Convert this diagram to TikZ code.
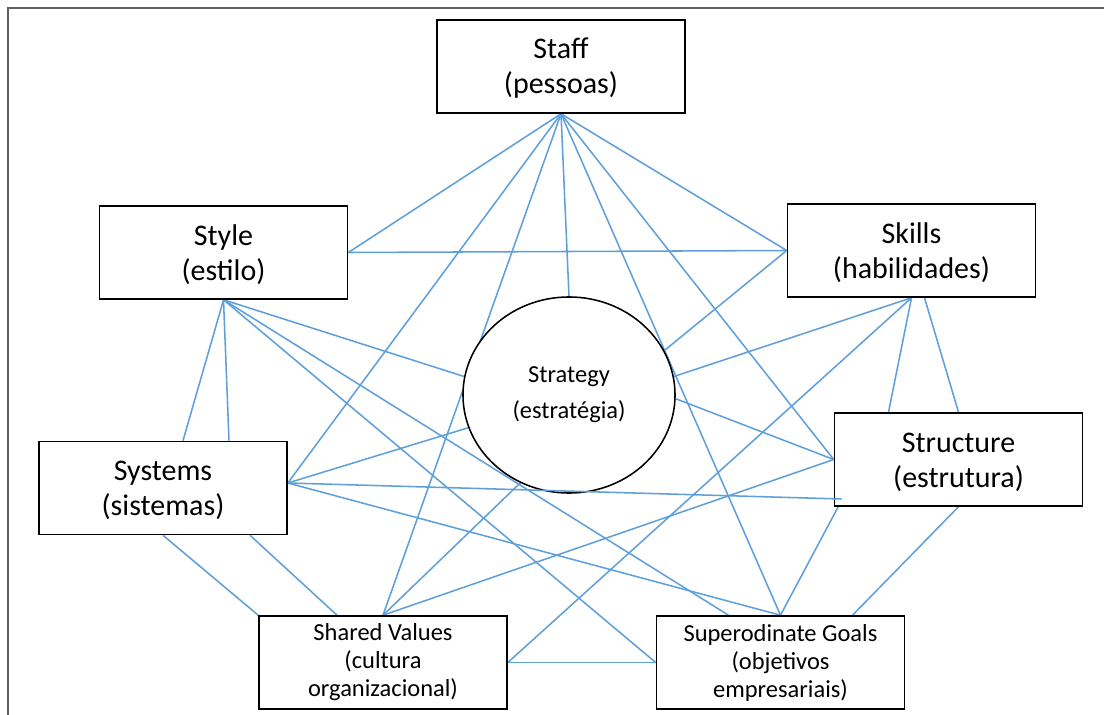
\documentclass[tikz,border=0pt]{standalone}
\usepackage{fontspec}
\setmainfont{Carlito}
\usetikzlibrary{shapes.geometric,calc}
\definecolor{linkblue}{RGB}{96,160,218}
\pgfdeclarelayer{background}
\pgfsetlayers{background,main}

\begin{document}
\begin{tikzpicture}[x=0.025cm,y=-0.025cm,
  box/.style={draw=black, line width=1.1pt, fill=white,
    minimum width=6.2cm, minimum height=2.325cm, inner sep=0pt,
    align=center, font=\fontsize{21.3}{25}\selectfont},
  smallbox/.style={box, font=\fontsize{17.4}{19.9}\selectfont},
  link/.style={draw=linkblue, line width=1.1pt},
  frame/.style={draw=gray!75!black, line width=1.3pt}]
\useasboundingbox (0,0) rectangle (1104,715);

% page frame
\draw[frame] (8,715) -- (8,8) -- (1104,8);

% the seven elements
\node[box] (staff) at (561,66.5) {\strut Staff\\(pessoas)};
\node[box] (style) at (223.5,252.5) {\strut Style\\(estilo)};
\node[box] (skills) at (911.5,250.5) {\strut Skills\\(habilidades)};
\node[box] (systems) at (163,488) {\strut Systems\\(sistemas)};
\node[box] (structure) at (958.5,459.5) {\strut Structure\\(estrutura)};
\node[smallbox] (shared) at (383,662.5) {Shared Values\\(cultura\\organizacional)};
\node[smallbox] (goals) at (780.5,662.5) {Superodinate Goals\\(objetivos\\empresariais)};
\node[ellipse, draw=black, line width=1.1pt, fill=white,
      minimum width=5.3cm, minimum height=4.9cm, inner sep=0pt,
      align=center, font=\fontsize{17.4}{25.6}\selectfont]
      (strategy) at (569,395) {Strategy\\(estratégia)};

% attachment points along the box borders
\coordinate (skillsHubB) at ($(skills.south)+(13,0)$);
\coordinate (sysR) at ($(systems.east)+(0,-5)$);
\coordinate (sysT1) at ($(systems.north)+(20,0)$);
\coordinate (sysT2) at ($(systems.north)+(66,0)$);
\coordinate (sysB2) at ($(systems.south)+(87,0)$);
\coordinate (sharedT) at ($(shared.north)+(-46,0)$);
\coordinate (goalsT1) at ($(goals.north)+(-52,0)$);
\coordinate (goalsT2) at ($(goals.north)+(72,0)$);
\coordinate (structT) at ($(structure.north)+(-70,0)$);
\coordinate (structIn) at ($(structure.west)+(8,39.5)$);

\begin{pgfonlayer}{background}
  % from Staff
  \draw[link] (staff.south) -- (style.east);
  \draw[link] (staff.south) -- (skills.west);
  \draw[link] (staff.south) -- (sysR);
  \draw[link] (staff.south) -- (shared.north);
  \draw[link] (staff.south) -- (strategy.90);
  \draw[link] (staff.south) -- (goals.north);
  \draw[link] (staff.south) -- (structure.west);
  % from Style
  \draw[link] (style.east) -- (skills.west);
  \draw[link] (style.south) -- (sysT1);
  \draw[link] (style.south) -- (sysT2);
  \draw[link] (style.south) -- (strategy.170);
  \draw[link] (style.south) -- (goalsT1);
  \draw[link] (style.south) -- (goals.west);
  % from Skills
  \draw[link] (skills.west) -- (strategy.25);
  \draw[link] (skills.south) -- (strategy.10);
  \draw[link] (skills.south) -- (structT);
  \draw[link] (skillsHubB) -- (structure.north);
  \draw[link] (skills.south) -- (shared.east);
  % from Systems
  \draw[link] (sysR) -- (strategy.198);
  \draw[link] (sysR) -- (goals.north);
  \draw[link] (systems.south) -- (shared.north west);
  \draw[link] (sysB2) -- (sharedT);
  % from Strategy, Shared Values and Structure
  \draw[link] (strategy.-2) -- (structure.west);
  \draw[link] (shared.north) -- (strategy.241);
  \draw[link] (shared.north) -- (structure.west);
  \draw[link] (shared.east) -- (goals.west);
  \draw[link] (structT) -- (goals.north);
  \draw[link] (structure.south) -- (goalsT2);
\end{pgfonlayer}

% Systems to Structure, ending just inside its box
\draw[link] (sysR) -- (structIn);
\end{tikzpicture}
\end{document}
